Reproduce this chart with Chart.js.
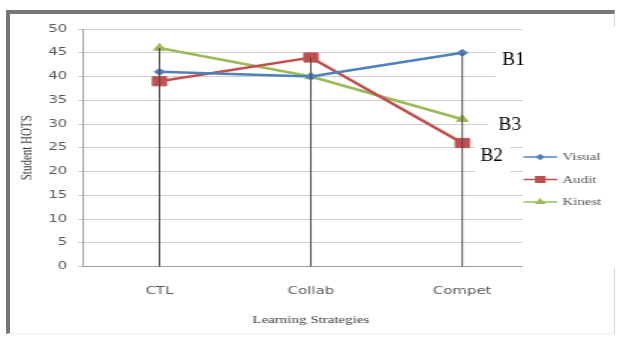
<!DOCTYPE html>
<html>
<head>
<meta charset="utf-8">
<script src="https://cdn.jsdelivr.net/npm/chart.js@4.4.0/dist/chart.umd.min.js"></script>
<style>
  body { margin: 0; background: #fff; width: 617px; height: 342px; overflow: hidden; position: relative; }
  #frame { position: absolute; left: 6px; top: 10px; width: 604px; height: 319px;
           border-left: 4px solid #767676; border-top: 4px solid #767676;
           border-right: 1px solid #d4d4d4; border-bottom: 1px solid #f0f0f0; }
  #chart { position: absolute; left: 0; top: 0; transform: scaleX(1.4976); transform-origin: 0 0; }
</style>
</head>
<body>
<div id="frame"></div>
<canvas id="chart" width="412" height="342"></canvas>
<script>
// values
var categories = ['CTL', 'Collab', 'Compet'];
var seriesNames = ['Visual', 'Audit', 'Kinest'];
var visualValues = [41, 40, 45];
var auditValues = [39, 44, 26];
var kinestValues = [46, 40, 31];
var seriesColors = ['#4F81BD', '#C0504D', '#9BBB59'];
var pointStyles = ['rectRot', 'rect', 'triangle'];
var pointSizes = [3.5, 6.5, 4.5];
var noteTexts = ['B1', 'B2', 'B3'];

var SX = 617 / 412; // picture is stretched sideways

var series = [visualValues, auditValues, kinestValues];
var datasets = [];
for (var i = 0; i < series.length; i++) {
    datasets.push({
        label: seriesNames[i],
        data: series[i],
        borderColor: seriesColors[i],
        backgroundColor: seriesColors[i],
        borderWidth: 2.5,
        tension: 0,
        pointStyle: pointStyles[i],
        pointRadius: pointSizes[i],
        pointBackgroundColor: seriesColors[i],
        pointBorderColor: seriesColors[i],
        pointBorderWidth: 1
    });
}

// legend box in excel sits over the right end of the plot
var legendCover = {
    id: 'legendCover',
    beforeDatasetsDraw: function(chart) {
        var a = chart.chartArea;
        var ctx = chart.ctx;
        ctx.save();
        ctx.fillStyle = '#fff';
        ctx.fillRect(349, a.top - 2, chart.width - 349, a.bottom - a.top + 4);
        ctx.restore();
    }
};

var dropLines = {
    id: 'dropLines',
    afterDatasetsDraw: function(chart) {
        var xs = chart.scales.x, ys = chart.scales.y;
        var ctx = chart.ctx;
        ctx.save();
        ctx.strokeStyle = '#505050';
        ctx.lineWidth = 1;
        for (var c = 0; c < categories.length; c++) {
            var top = 0;
            for (var d = 0; d < series.length; d++) {
                if (series[d][c] > top) top = series[d][c];
            }
            var x = xs.getPixelForValue(c);
            ctx.beginPath();
            ctx.moveTo(x, ys.getPixelForValue(top));
            ctx.lineTo(x, ys.getPixelForValue(0));
            ctx.stroke();
        }
        ctx.restore();
    }
};

var sideLegend = {
    id: 'sideLegend',
    afterDraw: function(chart) {
        var ctx = chart.ctx;
        ctx.save();
        for (var i = 0; i < chart.data.datasets.length; i++) {
            var ds = chart.data.datasets[i];
            var y = 157 + i * 22.5;
            ctx.strokeStyle = ds.borderColor;
            ctx.lineWidth = 1.5;
            ctx.beginPath();
            ctx.moveTo(349.5, y);
            ctx.lineTo(372, y);
            ctx.stroke();
            ctx.fillStyle = ds.borderColor;
            Chart.helpers.drawPoint(ctx, {
                pointStyle: ds.pointStyle, rotation: 0,
                radius: ds.pointRadius * 0.6, borderWidth: 1
            }, 360.7, y);
            ctx.fillStyle = '#595959';
            ctx.font = '10px "Liberation Serif"';
            ctx.textBaseline = 'middle';
            ctx.textAlign = 'left';
            ctx.fillText(ds.label, 375.5, y + 0.5);
        }
        ctx.restore();
    }
};

// B1..B3 notes pasted on top of the picture (not stretched)
var notes = {
    id: 'notes',
    afterDraw: function(chart) {
        var ctx = chart.ctx;
        var last = categories.length - 1;
        var offs = [[40, 6.5], [18, 12], [36, 5]];
        var boxes = [[-7, 28, -12, 24], [-5, 30, -12, 32], [-10, 28, -12, 22]];
        ctx.save();
        ctx.scale(1 / SX, 1);
        ctx.font = '19.5px "Liberation Serif"';
        ctx.textBaseline = 'middle';
        ctx.textAlign = 'left';
        for (var i = 0; i < noteTexts.length; i++) {
            var meta = chart.getDatasetMeta(i);
            var pt = meta.data[last];
            var x = pt.x * SX + offs[i][0];
            var y = pt.y + offs[i][1];
            var b = boxes[i];
            ctx.fillStyle = '#fff';
            ctx.fillRect(x + b[0], y + b[2], b[1] - b[0], b[3] - b[2]);
            ctx.fillStyle = '#000';
            ctx.fillText(noteTexts[i], x, y + 1);
        }
        ctx.restore();
    }
};

new Chart(document.getElementById('chart').getContext('2d'), {
    type: 'line',
    data: { labels: categories, datasets: datasets },
    plugins: [legendCover, dropLines, sideLegend, notes],
    options: {
        responsive: false,
        animation: false,
        devicePixelRatio: 1,
        layout: { padding: { left: 0, top: 29, right: 52.8, bottom: 10 } },
        plugins: { legend: { display: false }, tooltip: { enabled: false } },
        scales: {
            x: {
                offset: true,
                grid: { display: false, drawTicks: false },
                border: { display: true, color: '#a0a0a0', width: 1 },
                ticks: { color: '#595959', font: { family: 'DejaVu Sans', size: 10 }, padding: 19 },
                title: {
                    display: true, text: 'Learning Strategies', color: '#404040',
                    font: { family: 'Liberation Serif', size: 10 },
                    padding: { top: -2.5, bottom: 6 }
                }
            },
            y: {
                min: 0, max: 50,
                grid: { color: '#d0d0d0', tickLength: 4 },
                border: { display: true, color: '#a0a0a0', width: 1 },
                ticks: { stepSize: 5, color: '#595959', font: { family: 'DejaVu Sans', size: 10 }, padding: 7 },
                title: {
                    display: true, text: 'Student HOTS', color: '#404040',
                    font: { family: 'Liberation Serif', size: 11 },
                    padding: { top: 12, bottom: 0 }
                }
            }
        }
    }
});
</script>
</body>
</html>
